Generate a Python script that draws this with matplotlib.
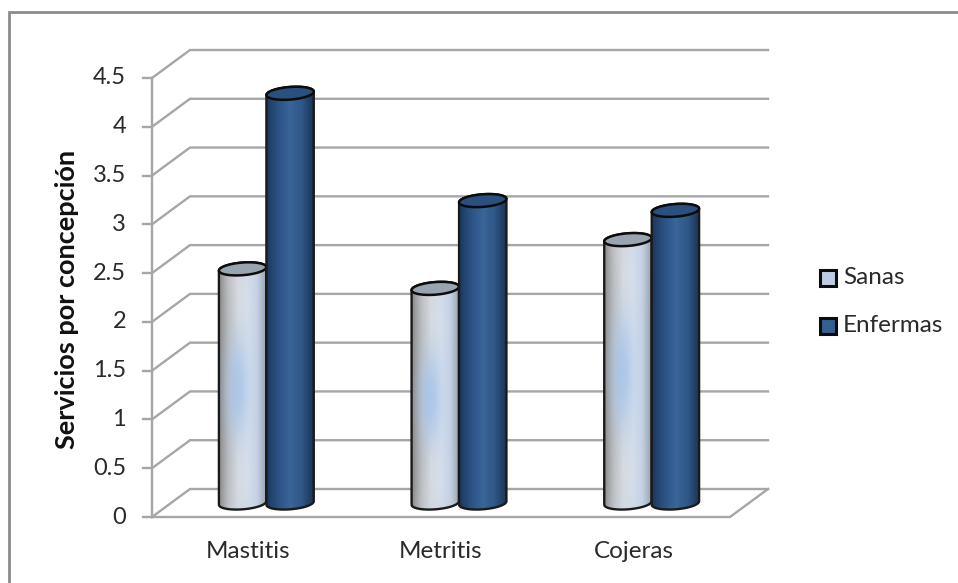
import matplotlib

matplotlib.use("Agg")

import matplotlib.pyplot as plt
import numpy as np
from matplotlib.colors import LinearSegmentedColormap
from matplotlib.lines import Line2D
from matplotlib.patches import PathPatch, Polygon, Rectangle
from matplotlib.path import Path

categories = ["Mastitis", "Metritis", "Cojeras"]
sanas = [2.4, 2.2, 2.7]
enfermas = [4.2, 3.1, 3.0]
y_ticks = [0, 0.5, 1, 1.5, 2, 2.5, 3, 3.5, 4, 4.5]
y_labels = ["0", "0.5", "1", "1.5", "2", "2.5", "3", "3.5", "4", "4.5"]

W, H = 958, 583
plt.rcParams["font.family"] = ["Lato", "DejaVu Sans"]

# front plane of the fake 3D box, in pixels
LEFT, RIGHT, BOTTOM, TOP = 152, 730, 517, 78
DEPTH_X, DEPTH_Y = 38, 28
BAR_W = 47.5
TILT = np.radians(4.5)
GRID = "#a6a6a6"
TEXT = "#2a2a2a"

fig = plt.figure(figsize=(W / 100, H / 100), dpi=100)
ax = fig.add_axes([LEFT / W, 1 - BOTTOM / H, (RIGHT - LEFT) / W, (BOTTOM - TOP) / H])
ax.set_xlim(0, 3)
ax.set_ylim(0, 4.5)
ax.axis("off")

px = 3 / (RIGHT - LEFT)
py = 4.5 / (BOTTOM - TOP)
dx, dy = DEPTH_X * px, DEPTH_Y * py

light = LinearSegmentedColormap.from_list(
    "light", ["#8a8a8a", "#bdbdbd", "#dedede", "#d8e1ed", "#c6d2e3", "#93a0ae"]
)
blue = LinearSegmentedColormap.from_list(
    "blue", ["#1c385c", "#2b5285", "#3a6599", "#2f5788", "#1a3354"]
)


def shade(cmap, glow):
    u = np.linspace(0, 1, 60)
    v = np.linspace(0, 1, 240)
    uu, vv = np.meshgrid(u, v)
    rgb = cmap(uu)[..., :3]
    if glow:
        # blue sheen in the middle of the tube, and towards both ends
        d = ((uu - 0.38) / 0.25) ** 2 + ((vv - 0.5) / 0.23) ** 2
        a = 0.8 * np.exp(-d)[..., None]
        rgb = rgb * (1 - a) + np.array([0.63, 0.76, 0.92]) * a
        e = (np.abs(vv - 0.5) * 2) ** 4 * 0.5 * np.sin(np.pi * uu)
        rgb = rgb * (1 - e[..., None]) + np.array([0.76, 0.82, 0.90]) * e[..., None]
    return rgb


def ellipse_points(cx, cy, t):
    # tilted ellipse, worked out in pixels then turned into data units
    a, b = BAR_W / 2, 6.3
    x = a * np.cos(t) * np.cos(TILT) - b * np.sin(t) * np.sin(TILT)
    y = a * np.cos(t) * np.sin(TILT) + b * np.sin(t) * np.cos(TILT)
    return np.column_stack([cx + x * px, cy + y * py])


def cylinder(x0, value, cmap, top_color, glow, z):
    # x0 is the left edge, the base sits halfway into the box depth
    w = BAR_W * px
    cx = x0 + w / 2
    y0 = dy / 2
    y1 = y0 + value
    im = ax.imshow(
        shade(cmap, glow),
        extent=(x0, x0 + w, y0 - 9 * py, y1 + 5 * py),
        origin="lower",
        aspect="auto",
        zorder=z,
    )
    # outline: lower half of the base ellipse, then back over the top rim
    base = ellipse_points(cx, y0, np.linspace(np.pi, 2 * np.pi, 40))
    rim = ellipse_points(cx, y1, np.linspace(0, np.pi, 40))
    pts = np.vstack([base, rim, base[:1]])
    codes = [Path.MOVETO] + [Path.LINETO] * (len(pts) - 1)
    body = PathPatch(Path(pts, codes), fc="none", ec="#1a1a1a", lw=1.7, zorder=z + 0.1)
    ax.add_patch(body)
    im.set_clip_path(body)
    top = ellipse_points(cx, y1, np.linspace(0, 2 * np.pi, 80))
    ax.add_patch(Polygon(top, closed=True, fc=top_color, ec="#0c0c0c", lw=1.8, zorder=z + 0.2))


# walls and floor
for y in y_ticks:
    ax.plot([0, dx, 3 + dx], [y, y + dy, y + dy], color=GRID, lw=1.7, clip_on=False, zorder=1, solid_joinstyle="miter")
    ax.plot([-9 * px, 0], [y, y], color=GRID, lw=1.7, clip_on=False, zorder=1)
ax.plot([0, 0], [0, 4.5], color=GRID, lw=1.7, clip_on=False, zorder=1)
ax.plot([0, 3, 3 + dx], [0, 0, dy], color=GRID, lw=1.7, clip_on=False, zorder=1)

for i, (a, b) in enumerate(zip(sanas, enfermas)):
    center = i + 0.5 + dx / 2 - 1 * px
    cylinder(center - BAR_W * px, a, light, "#98a4af", True, 3 + i)
    cylinder(center, b, blue, "#2b4f7e", False, 3.5 + i)
    ax.text(i + 0.5, -35 * py, categories[i], ha="center", va="center", fontsize=17.5, color=TEXT, clip_on=False)

for t, lab in zip(y_ticks, y_labels):
    ax.text(-26 * px, t, lab, ha="right", va="center", fontsize=17, color=TEXT, clip_on=False)

fig.text(67 / W, 1 - 299 / H, "Servicios por concepción", rotation=90, ha="center", va="center",
         fontsize=19.5, fontweight="bold", color="#111111")

# legend built by hand so the keys keep their thick black outline
for ypx, label, face in [(277.5, "Sanas", "#bccde3"), (326, "Enfermas", "#33608f")]:
    fig.add_artist(Rectangle((819.5 / W, 1 - (ypx + 8) / H), 16 / W, 16 / H, transform=fig.transFigure,
                             fc=face, ec="#0c0c0c", lw=2.2))
    fig.text(843 / W, 1 - ypx / H, label, ha="left", va="center", fontsize=17.5, color=TEXT)

# chart frame: only the top and left edges fall inside the canvas
fig.add_artist(Line2D([9 / W, 9 / W, 1], [0, 1 - 12 / H, 1 - 12 / H], transform=fig.transFigure,
                      color="#8c8c8c", lw=2, solid_joinstyle="miter"))

fig.savefig("out.png", dpi=100, facecolor="white")
